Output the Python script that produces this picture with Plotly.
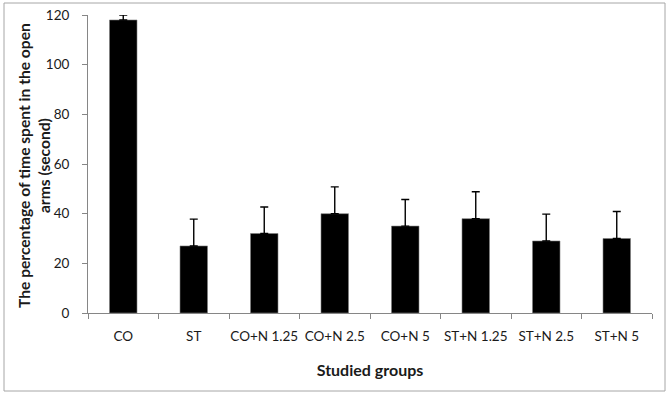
import plotly.graph_objects as go

categories = ["CO", "ST", "CO+N 1.25", "CO+N 2.5", "CO+N 5", "ST+N 1.25", "ST+N 2.5", "ST+N 5"]
means = [118, 27, 32, 40, 35, 38, 29, 30]
errors = [2, 10.8, 10.7, 10.8, 10.7, 10.8, 10.8, 10.9]
y_ticks = [0, 20, 40, 60, 80, 100, 120]

W, H = 669, 398
L, R, T, B = 88, 17, 15, 85
pw, ph = W - L - R, H - T - B

fig = go.Figure()
fig.add_trace(go.Bar(
    x=categories, y=means,
    marker=dict(color="black", line=dict(color="#808080", width=0.6)),
    width=0.39,
    error_y=dict(type="data", symmetric=False, array=errors,
                 arrayminus=[0] * len(errors), color="black",
                 thickness=1.4, width=4),
))

font = "Lato, 'Liberation Sans', sans-serif"
txt = "#1a1a1a"
fig.update_layout(
    width=W, height=H,
    margin=dict(l=L, r=R, t=T, b=B, autoexpand=False),
    plot_bgcolor="white", paper_bgcolor="white",
    showlegend=False,
    font=dict(family=font, size=14, color=txt),
    xaxis=dict(
        automargin=False,
        showline=True, linecolor="#868686", linewidth=1,
        ticks="outside", tickson="boundaries", ticklen=5, tickcolor="#868686",
        tickangle=0, ticklabelstandoff=11,
        tickfont=dict(size=13.5, color=txt),
        title=dict(text="<b>Studied groups</b>", font=dict(size=16, color=txt), standoff=21),
    ),
    yaxis=dict(
        automargin=False,
        range=[0, 120], tickvals=y_ticks,
        showline=True, linecolor="#868686", linewidth=1,
        ticks="outside", ticklen=5, tickcolor="#868686",
        ticklabelstandoff=10,
        showgrid=False, zeroline=False,
        tickfont=dict(size=13.5, color=txt),
    ),
    annotations=[dict(
        text="<b>The percentage of time spent in the open<br>arms (second)</b>",
        xref="paper", yref="paper",
        x=(34 - L) / pw, y=(H - B - 166) / ph,
        xanchor="center", yanchor="middle", textangle=-90, showarrow=False,
        font=dict(size=15.6, color=txt),
    )],
    shapes=[dict(type="rect", xref="paper", yref="paper",
                 x0=(4 - L) / pw, x1=(665 - L) / pw,
                 y0=(H - B - 391) / ph, y1=(H - B - 3) / ph,
                 line=dict(color="#A6A6A6", width=1))],
)

fig.write_html("out.html", config={"displayModeBar": False},
               post_script="document.body.style.margin='0';document.body.style.overflow='hidden';")
